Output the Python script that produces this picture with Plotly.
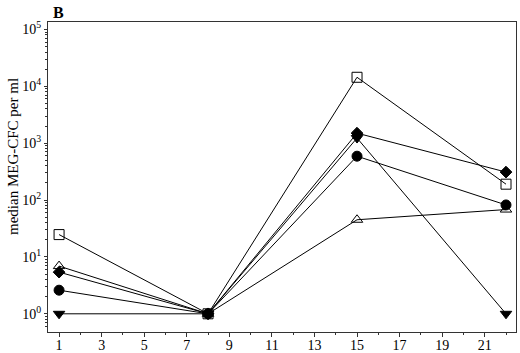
import plotly.graph_objects as go

days = [1, 8, 15, 22]
open_square = [24.7, 1.0, 14400, 190]
open_triangle = [6.9, 1.0, 45, 68]
filled_diamond = [5.4, 1.0, 1500, 310]
filled_circle = [2.6, 1.0, 590, 82]
filled_tri_down = [1.0, 1.0, 1230, 1.0]

y_tick_vals = [1, 10, 100, 1000, 10000, 100000]
y_tick_text = ["10<sup>0</sup>", "10<sup>1</sup>", "10<sup>2</sup>",
               "10<sup>3</sup>", "10<sup>4</sup>", "10<sup>5</sup>"]
x_tick_vals = [1, 3, 5, 7, 9, 11, 13, 15, 17, 19, 21]

series = [
    ("open square", open_square, "square-open"),
    ("open triangle", open_triangle, "triangle-up-open"),
    ("filled diamond", filled_diamond, "diamond"),
    ("filled circle", filled_circle, "circle"),
    ("filled triangle down", filled_tri_down, "triangle-down"),
]
sizes = {"square-open": 10, "triangle-up-open": 10, "diamond": 9, "circle": 10, "triangle-down": 10}

fig = go.Figure()
for name, vals, sym in series:
    fig.add_trace(go.Scatter(
        x=days, y=vals, mode="lines+markers", name=name,
        line=dict(color="black", width=1),
        marker=dict(symbol=sym, size=sizes[sym], color="black",
                    line=dict(color="black", width=1)),
        showlegend=False, cliponaxis=False,
    ))

font = "Liberation Serif"
L, R, T, B = 48, 4, 22, 21
W, H = 520, 353
pw, ph = W - L - R, H - T - B

minor_y = [m * 10 ** d for d in range(0, 5) for m in range(2, 10)] + [0.6, 0.7, 0.8, 0.9]

fig.update_layout(
    width=W, height=H,
    margin=dict(l=L, r=R, t=T, b=B, autoexpand=False),
    paper_bgcolor="white", plot_bgcolor="white",
    font=dict(family=font, size=14, color="black"),
    annotations=[
        dict(text="<b>B</b>", x=(58 - L) / pw, y=1 + (T - 13) / ph,
             xref="paper", yref="paper", xanchor="center", yanchor="middle",
             showarrow=False, font=dict(size=16, family=font)),
        dict(text="median MEG-CFC per ml", textangle=-90,
             x=-(L - 13) / pw, y=(H - B - 157) / ph,
             xref="paper", yref="paper", xanchor="center", yanchor="middle",
             showarrow=False, font=dict(size=15, family=font)),
    ],
)

fig.update_xaxes(
    range=[0.48, 22.47], tickmode="array", tickvals=x_tick_vals,
    ticks="outside", ticklen=4, tickcolor="#333", showgrid=False, zeroline=False,
    showline=True, linecolor="#333", linewidth=1, mirror=True, automargin=False,
    ticklabelstandoff=-4,
    minor=dict(ticks="outside", ticklen=2, dtick=1, tick0=0, tickcolor="#333", showgrid=False),
    tickfont=dict(size=14, family=font),
)
fig.update_yaxes(
    type="log", range=[-0.32, 5.13], tickmode="array", tickvals=y_tick_vals,
    ticktext=y_tick_text,
    ticks="outside", ticklen=3, tickcolor="#333", showgrid=False, zeroline=False,
    showline=True, linecolor="#333", linewidth=1, mirror=True, automargin=False,
    minor=dict(ticks="outside", ticklen=2, tickmode="array", tickvals=minor_y,
               tickcolor="#333", showgrid=False),
    tickfont=dict(size=14, family=font),
)

fig.write_html("out.html", config={"displayModeBar": False},
               post_script="document.body.style.margin='0px';")
